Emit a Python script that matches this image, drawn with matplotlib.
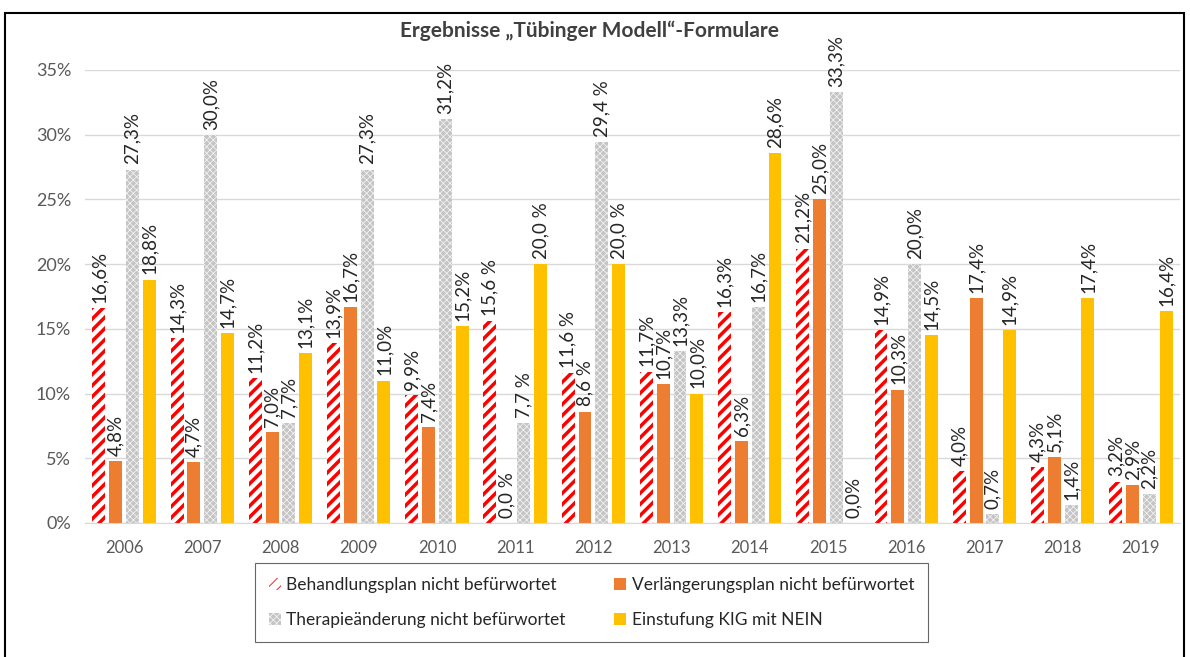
import matplotlib.pyplot as plt
import numpy as np
from matplotlib.patches import Rectangle

plt.rcParams['font.family'] = ['Lato', 'DejaVu Sans']

years = ['2006', '2007', '2008', '2009', '2010', '2011', '2012',
         '2013', '2014', '2015', '2016', '2017', '2018', '2019']

behandlung = [16.6, 14.3, 11.2, 13.9, 9.9, 15.6, 11.6, 11.7, 16.3, 21.2, 14.9, 4.0, 4.3, 3.2]
verlaengerung = [4.8, 4.7, 7.0, 16.7, 7.4, 0.0, 8.6, 10.7, 6.3, 25.0, 10.3, 17.4, 5.1, 2.9]
therapie = [27.3, 30.0, 7.7, 27.3, 31.2, 7.7, 29.4, 13.3, 16.7, 33.3, 20.0, 0.7, 1.4, 2.2]
kig = [18.8, 14.7, 13.1, 11.0, 15.2, 20.0, 20.0, 10.0, 28.6, 0.0, 14.5, 14.9, 17.4, 16.4]

series_names = ['Behandlungsplan nicht befürwortet', 'Verlängerungsplan nicht befürwortet',
                'Therapieänderung nicht befürwortet', 'Einstufung KIG mit NEIN']

# labels written with a space before % in the original (year index, series index)
spaced = {(5, 0), (5, 1), (5, 2), (5, 3), (6, 0), (6, 1), (6, 2), (6, 3)}

fig = plt.figure(figsize=(11.9, 6.57), dpi=100)
ax = fig.add_axes([0.0714, 0.204, 0.9202, 0.6895])

x = np.arange(len(years))
w = 0.165
step = 0.215
offsets = np.array([-1.5, -0.5, 0.5, 1.5]) * step

plt.rcParams['hatch.linewidth'] = 2.5
b1 = ax.bar(x + offsets[0], behandlung, w, facecolor='white', edgecolor='#ff0000',
            hatch='///', linewidth=0, label=series_names[0])
b2 = ax.bar(x + offsets[1], verlaengerung, w, color='#ED7D31', label=series_names[1])
plt.rcParams['hatch.linewidth'] = 0.6
b3 = ax.bar(x + offsets[2], therapie, w, facecolor='#c4c4c4', edgecolor='#f2f2f2',
            hatch='xxxxx', linewidth=0, label=series_names[2])
b4 = ax.bar(x + offsets[3], kig, w, color='#FFC000', label=series_names[3])

all_vals = [behandlung, verlaengerung, therapie, kig]
for s, vals in enumerate(all_vals):
    for i, v in enumerate(vals):
        txt = f'{v:.1f}'.replace('.', ',')
        txt += ' %' if (i, s) in spaced else '%'
        ax.text(x[i] + offsets[s], v + 0.4, txt, rotation=90, ha='center', va='bottom',
                fontsize=13.5, color='#262626', clip_on=False)

ax.set_ylim(0, 35)
ax.set_xlim(-0.5, len(years) - 0.5)
ax.set_yticks(np.arange(0, 36, 5))
ax.set_yticklabels([f'{t}%' for t in range(0, 36, 5)])
ax.set_xticks(x)
ax.set_xticklabels(years)
ax.tick_params(length=0, labelsize=12, colors='#595959', pad=8)
ax.tick_params(axis='y', labelsize=13, pad=10)
ax.tick_params(axis='x', pad=12)
ax.grid(axis='y', color='#d9d9d9', linewidth=1)
ax.set_axisbelow(True)
for sp in ['top', 'right', 'left']:
    ax.spines[sp].set_visible(False)
ax.spines['bottom'].set_color('#d9d9d9')

fig.text(0.495, 0.953, 'Ergebnisse \u201eTübinger Modell\u201c-Formulare', ha='center', va='center',
         fontsize=15, fontweight='bold', color='#404040')

# legend fills column by column, so reorder to get rows as in the original
leg = fig.legend(handles=[b1, b3, b2, b4], ncol=2, loc='center', bbox_to_anchor=(0.497, 0.083),
                 fontsize=12.5, frameon=True, fancybox=False, edgecolor='#404040',
                 handlelength=0.7, handleheight=0.7, handletextpad=0.3, columnspacing=2.8,
                 labelspacing=1.1, borderpad=0.8)
leg.get_frame().set_linewidth(0.8)
for t in leg.get_texts():
    t.set_color('#262626')

fig.patches.append(Rectangle((0.004, -0.05), 0.991, 1.03, transform=fig.transFigure,
                             fill=False, edgecolor='black', linewidth=1.5))

fig.savefig('out.png', dpi=100)
